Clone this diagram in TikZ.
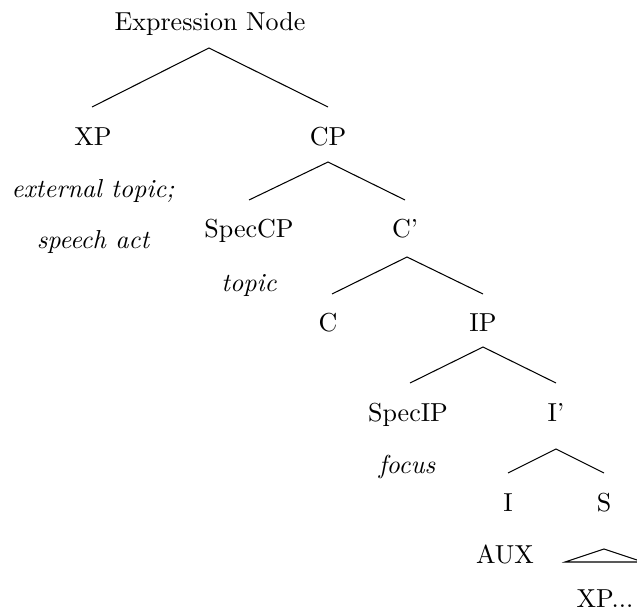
\documentclass[tikz,border=0pt]{standalone}
\begin{document}
\begin{tikzpicture}[x=0.3846pt,y=-0.3846pt,
  lbl/.style={anchor=base,inner sep=0pt},
  note/.style={anchor=base,inner sep=0pt,font=\itshape},
  branch/.style={line width=0.4pt}]
\useasboundingbox (0,0) rectangle (637,611);
\clip (0,0) rectangle (637,611);
% nodes
\node[lbl] (en) at (210,31) {Expression Node};
\node[lbl] (xp) at (93,145) {XP};
\node[lbl] (cp) at (328,145) {CP};
\node[note] (ext) at (93,197) {external topic;};
\node[note] (sa) at (93,248) {speech act};
\node[lbl] (spc) at (249,237) {SpecCP};
\node[lbl] (cb) at (405,237) {C'};
\node[note] (top) at (249,291) {topic};
\node[lbl] (c) at (328,331) {C};
\node[lbl] (ip) at (483,331) {IP};
\node[lbl] (spi) at (408,421) {SpecIP};
\node[lbl] (ib) at (556,421) {I'};
\node[note] (foc) at (407,473) {focus};
\node[lbl] (i) at (508,511) {I};
\node[lbl] (s) at (604,511) {S};
\node[lbl] (aux) at (505,563) {AUX};
\node[lbl] (xpd) at (605,607) {XP...};
% branch points
\coordinate (en-t) at (209,48);
\coordinate (en-l) at (92,107);
\coordinate (en-r) at (328,107);
\coordinate (cp-t) at (328,162);
\coordinate (cp-l) at (249,200);
\coordinate (cp-r) at (405,200);
\coordinate (cb-t) at (407,257);
\coordinate (cb-l) at (332,294);
\coordinate (cb-r) at (483,294);
\coordinate (ip-t) at (483,347);
\coordinate (ip-l) at (410,383);
\coordinate (ip-r) at (556,383);
\coordinate (ib-t) at (556,449);
\coordinate (ib-l) at (508,473);
\coordinate (ib-r) at (604,473);
\coordinate (s-t) at (604,549);
\coordinate (s-l) at (565,562);
\coordinate (s-r) at (643,562);
% connectors
\draw[branch] (en-l) -- (en-t) -- (en-r);
\draw[branch] (cp-l) -- (cp-t) -- (cp-r);
\draw[branch] (cb-l) -- (cb-t) -- (cb-r);
\draw[branch] (ip-l) -- (ip-t) -- (ip-r);
\draw[branch] (ib-l) -- (ib-t) -- (ib-r);
\draw[branch] (s-l) -- (s-t) -- (s-r) -- cycle;
\end{tikzpicture}
\end{document}
